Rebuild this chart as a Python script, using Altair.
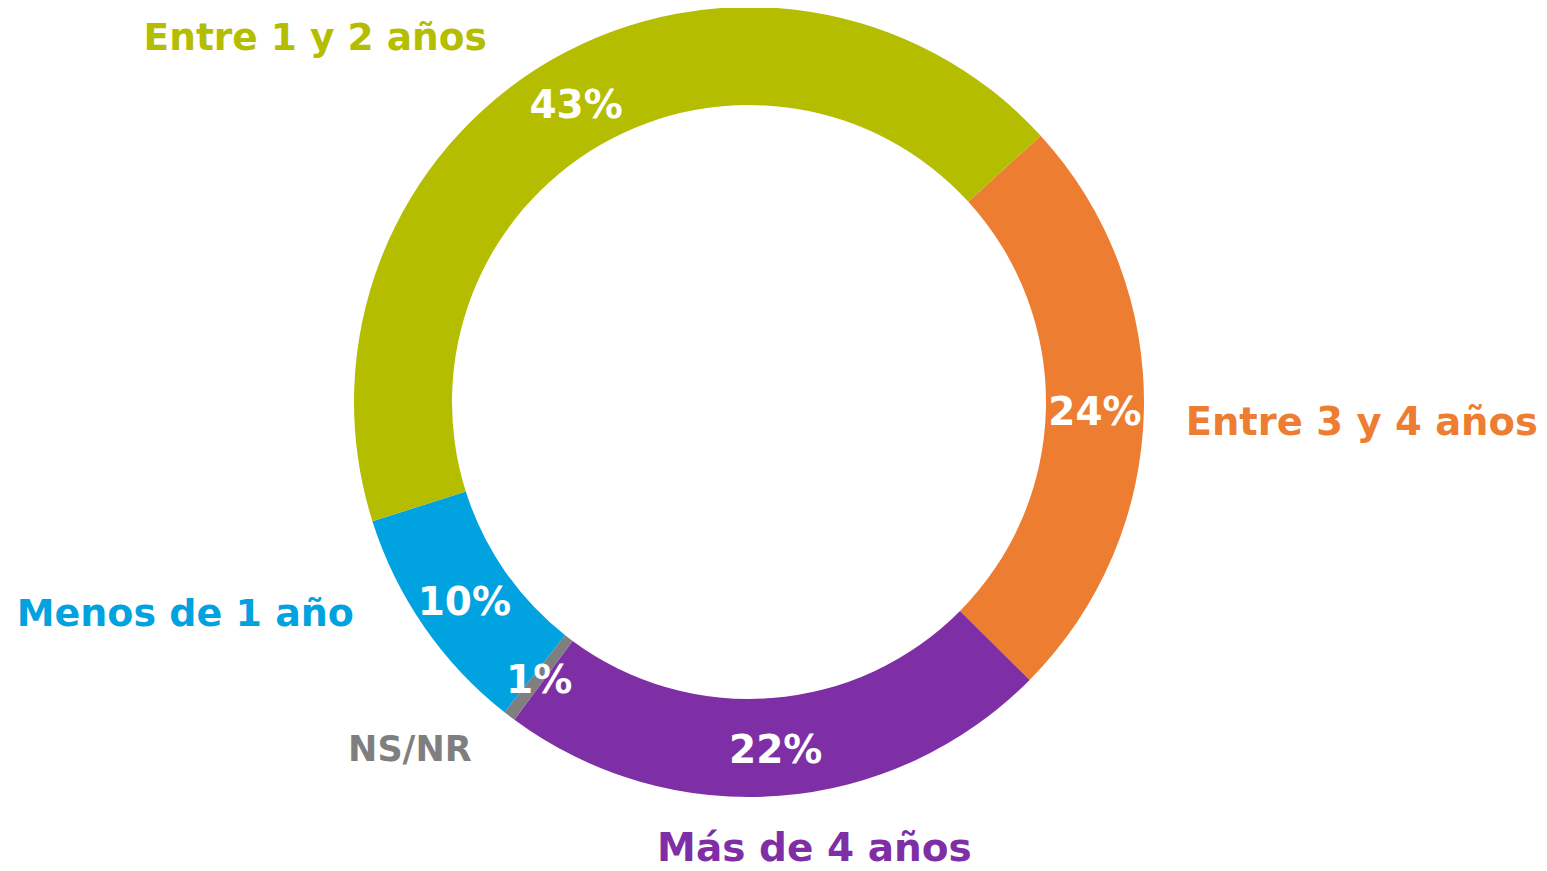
import math
import altair as alt
import pandas as pd

# data (clockwise from the green/orange boundary)
categories = ["Entre 3 y 4 años", "Más de 4 años", "NS/NR", "Menos de 1 año", "Entre 1 y 2 años"]
values = [24.2, 22.7, 0.5, 9.5, 43.1]
pct_labels = ["24%", "22%", "1%", "10%", "43%"]
colors = ["#ED7D31", "#7F2FA5", "#7F7F7F", "#00A3E0", "#B5BD00"]

# label layout (angle in degrees clockwise from top, radius in px)
label_angle = [91.6, 171.6, 224.6, 249.7, 310.2]
label_radius = [613, 448, 483, 601, 568]
label_size = [38.5, 39, 35, 38, 37.5]

start = math.radians(47.6)

df = pd.DataFrame({
    "cat": categories,
    "value": values,
    "pct": pct_labels,
    "order": list(range(len(categories))),
    "la": [math.radians(a) for a in label_angle],
    "lr": label_radius,
    "ls": label_size,
})

color_scale = alt.Scale(domain=categories, range=colors)
theta = alt.Theta("value:Q", stack=True, scale=alt.Scale(range=[start, start + 2 * math.pi]))

base = alt.Chart(df)

ring = base.mark_arc(outerRadius=395, innerRadius=297).encode(
    theta=theta,
    color=alt.Color("cat:N", scale=color_scale, legend=None),
    order=alt.Order("order:Q"),
)

inner = base.mark_text(
    radius=346, font="DejaVu Sans", fontWeight="bold", fontSize=39,
    color="white", align="center", baseline="middle", dy=4,
).encode(
    theta=theta,
    order=alt.Order("order:Q"),
    text="pct:N",
)

outer = base.mark_text(
    font="DejaVu Sans", fontWeight="bold", align="center", baseline="middle", dy=4,
).encode(
    theta=alt.Theta("la:Q", scale=None, stack=None),
    radius=alt.Radius("lr:Q", scale=None),
    size=alt.Size("ls:Q", scale=None),
    color=alt.Color("cat:N", scale=color_scale, legend=None),
    text="cat:N",
)

chart = alt.layer(ring, inner, outer).properties(
    width=1482, height=788,
    autosize=alt.AutoSizeParams(type="none"),
    padding={"left": 0, "top": 0, "right": 49, "bottom": 75},
).configure_view(stroke=None)

chart.save("out.html", embed_options={"renderer": "svg", "actions": False})
